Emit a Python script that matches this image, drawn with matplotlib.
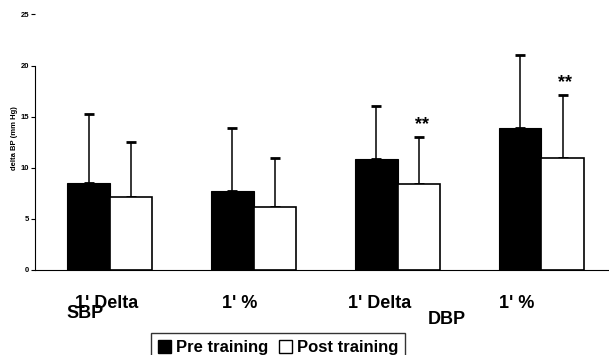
import matplotlib.pyplot as plt
import matplotlib.transforms as mtransforms
from matplotlib.patches import Patch
import numpy as np

plt.rcParams['font.family'] = ['Liberation Sans', 'DejaVu Sans']

groups = ["1' Delta", "1' %", "1' Delta", "1' %"]
pre_mean = [8.5, 7.7, 10.9, 13.9]
pre_sd = [6.8, 6.2, 5.1, 7.1]
post_mean = [7.1, 6.2, 8.45, 11.0]
post_sd = [5.4, 4.8, 4.55, 6.1]
signif = ['', '', '**', '**']

fig = plt.figure(figsize=(6.09, 3.55), dpi=100)
ax = fig.add_axes([35 / 609, 1 - 270 / 355, 574 / 609, 255.5 / 355])

x = np.arange(len(groups))
w = 0.295
ax.bar(x - w / 2, pre_mean, w, color='black', edgecolor='black', linewidth=0.8, zorder=2)
ax.bar(x + w / 2, post_mean, w, color='white', edgecolor='black', linewidth=1.2, zorder=2)
ax.errorbar(x - w / 2, pre_mean, yerr=[np.zeros(4), pre_sd], fmt='none', ecolor='black',
            elinewidth=1.1, capsize=3.5, capthick=2, zorder=1)
ax.errorbar(x + w / 2, post_mean, yerr=[np.zeros(4), post_sd], fmt='none', ecolor='black',
            elinewidth=1.1, capsize=3.5, capthick=2, zorder=1)

for i, s in enumerate(signif):
    if s:
        ax.text(x[i] + w / 2 + 0.02, post_mean[i] + post_sd[i] + 1.2, s, ha='center', va='center',
                fontsize=13, fontweight='bold')

ax.set_xlim(-0.52, 3.47)
ax.set_ylim(0, 25)
ax.set_yticks([0, 5, 10, 15, 20, 25])
ax.tick_params(axis='y', length=3, width=0.8, pad=1, labelsize=5.5)
for lbl in ax.get_yticklabels():
    lbl.set_fontweight('bold')
ax.set_xticks([])
ax.spines['top'].set_visible(False)
ax.spines['right'].set_visible(False)
ax.spines['left'].set_bounds(0, 20)
ax.spines['left'].set_linewidth(0.8)
ax.spines['bottom'].set_linewidth(0.8)

ax.set_ylabel('delta BP (mm Hg)', fontsize=5.5, fontweight='bold')
ax.yaxis.set_label_coords(-0.03, 0.516)

# category labels under the axis
trans = mtransforms.blended_transform_factory(ax.transData, fig.transFigure)
label_shift = [-0.02, -0.1, -0.125, -0.17]
for i, g in enumerate(groups):
    ax.text(x[i] + label_shift[i], 1 - 303 / 355, g, transform=trans, ha='center', va='center',
            fontsize=13, fontweight='bold')
ax.text(-0.17, 1 - 314 / 355, 'SBP', transform=trans, ha='center', va='center',
        fontsize=13, fontweight='bold')
ax.text(2.34, 1 - 320 / 355, 'DBP', transform=trans, ha='center', va='center',
        fontsize=13, fontweight='bold')

handles = [Patch(facecolor='black', edgecolor='black'),
           Patch(facecolor='white', edgecolor='black')]
leg = fig.legend(handles, ['Pre training', 'Post training'], loc='upper left',
                 bbox_to_anchor=(143 / 609, 1 - 325 / 355), ncol=2, frameon=True,
                 fancybox=False, edgecolor='black', handlelength=0.8, handleheight=0.8,
                 handletextpad=0.3, columnspacing=0.6, borderpad=0.4,
                 prop={'size': 12, 'weight': 'bold'})
leg.get_frame().set_linewidth(1.0)

fig.savefig('out.png', dpi=100)
